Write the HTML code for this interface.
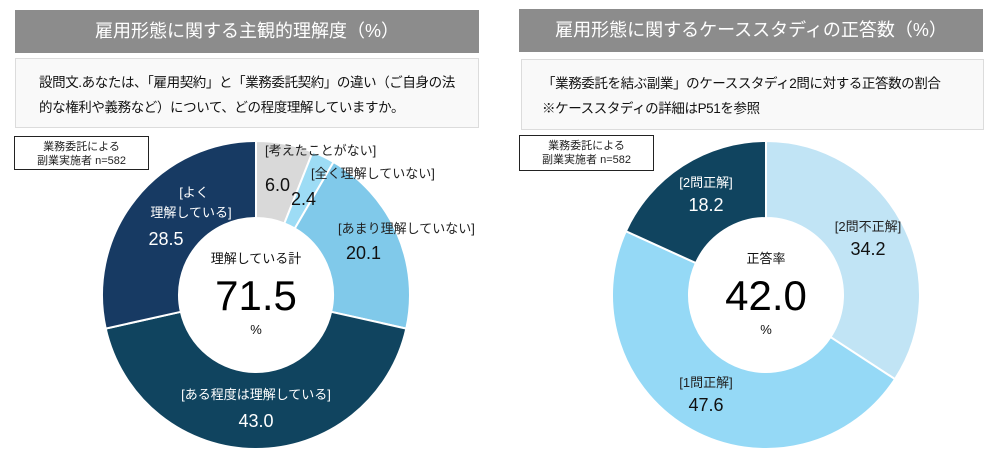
<!DOCTYPE html>
<html><head><meta charset="utf-8">
<style>
body{margin:0;width:1000px;height:470px;background:#fff;overflow:hidden;font-family:"Liberation Sans","Noto Sans CJK JP",sans-serif;}
.abs{position:absolute;}
.title{background:#8c8c8c;color:#fff;font-size:18px;text-align:center;line-height:43px;height:43px;white-space:nowrap;}
.q{background:#f9f9f9;border:1px solid #dcdcdc;box-sizing:border-box;font-size:13.5px;letter-spacing:-0.4px;color:#111;line-height:25px;padding:11px 0 0 23px;white-space:nowrap;}
.n{border:1px solid #222;box-sizing:border-box;font-size:11px;line-height:14px;text-align:center;padding-top:3px;color:#222;background:#fff;white-space:nowrap;}
</style></head><body>
<div class="abs title" style="left:15px;top:10px;width:464px;">雇用形態に関する主観的理解度（%）</div>
<div class="abs title" style="left:519px;top:9px;width:464px;">雇用形態に関するケーススタディの正答数（%）</div>
<div class="abs q" style="left:15px;top:58px;width:464px;height:70px;">設問文.あなたは、「雇用契約」と「業務委託契約」の違い（ご自身の法<br>的な権利や義務など）について、どの程度理解していますか。</div>
<div class="abs q" style="left:521px;top:59px;width:463px;height:71px;padding-left:20px;">「業務委託を結ぶ副業」のケーススタディ2問に対する正答数の割合<br>※ケーススタディの詳細はP51を参照</div>
<svg class="abs" style="left:0;top:0" width="1000" height="470" id="s">
<g id="d1"></g><g id="d2"></g>
<g font-family="Liberation Sans, Noto Sans CJK JP, sans-serif" font-size="13">
<text x="265" y="155" fill="#222">[考えたことがない]</text>
<text x="265" y="191" fill="#111" font-size="18">6.0</text>
<text x="291" y="205" fill="#111" font-size="18">2.4</text>
<text x="311" y="178" fill="#222">[全く理解していない]</text>
<text x="338" y="233" fill="#222">[あまり理解していない]</text>
<text x="346" y="259" fill="#111" font-size="18">20.1</text>
<text x="194" y="197" fill="#fff" text-anchor="middle">[よく</text>
<text x="191" y="217" fill="#fff" text-anchor="middle">理解している]</text>
<text x="166" y="245" fill="#fff" font-size="18" text-anchor="middle">28.5</text>
<text x="256" y="263" fill="#111" text-anchor="middle">理解している計</text>
<text x="256" y="310" fill="#000" font-size="42" text-anchor="middle">71.5</text>
<text x="256" y="334" fill="#111" text-anchor="middle">%</text>
<text x="256" y="399" fill="#fff" text-anchor="middle">[ある程度は理解している]</text>
<text x="256" y="427" fill="#fff" font-size="18" text-anchor="middle">43.0</text>

<text x="706" y="187" fill="#fff" text-anchor="middle">[2問正解]</text>
<text x="706" y="211" fill="#fff" font-size="18" text-anchor="middle">18.2</text>
<text x="868" y="231" fill="#222" text-anchor="middle">[2問不正解]</text>
<text x="868" y="255" fill="#111" font-size="18" text-anchor="middle">34.2</text>
<text x="766" y="263" fill="#111" text-anchor="middle">正答率</text>
<text x="766" y="310" fill="#000" font-size="42" text-anchor="middle">42.0</text>
<text x="766" y="334" fill="#111" text-anchor="middle">%</text>
<text x="706" y="387" fill="#222" text-anchor="middle">[1問正解]</text>
<text x="706" y="411" fill="#111" font-size="18" text-anchor="middle">47.6</text>
</g>
</svg>
<div class="abs n" style="left:14px;top:136px;width:135px;height:34px;">業務委託による<br>副業実施者 n=582</div>
<div class="abs n" style="left:519px;top:135px;width:135px;height:36px;">業務委託による<br>副業実施者 n=582</div>
<script>
function donut(id,cx,cy,R,r,data){
 var g=document.getElementById(id),a=0,h='';
 data.forEach(function(d){
  var a0=a/100*2*Math.PI,a1=(a+d[0])/100*2*Math.PI;a+=d[0];
  function p(rr,t){return [(cx+rr*Math.sin(t)).toFixed(2),(cy-rr*Math.cos(t)).toFixed(2)].join(',');}
  var L=(a1-a0)>Math.PI?1:0;
  h+='<path d="M'+p(R,a0)+' A'+R+','+R+' 0 '+L+' 1 '+p(R,a1)+' L'+p(r,a1)+' A'+r+','+r+' 0 '+L+' 0 '+p(r,a0)+' Z" fill="'+d[1]+'" stroke="#fff" stroke-width="2"/>';
 });
 g.innerHTML=h;
}
donut('d1',256,295,154,77,[[6.0,'#d9d9d9'],[2.4,'#9ddcf5'],[20.1,'#80c9ea'],[43.0,'#10445f'],[28.5,'#173a63']]);
donut('d2',766,295,154,77,[[34.2,'#c1e4f5'],[47.6,'#95d9f6'],[18.2,'#10445f']]);
</script>
</body></html>
